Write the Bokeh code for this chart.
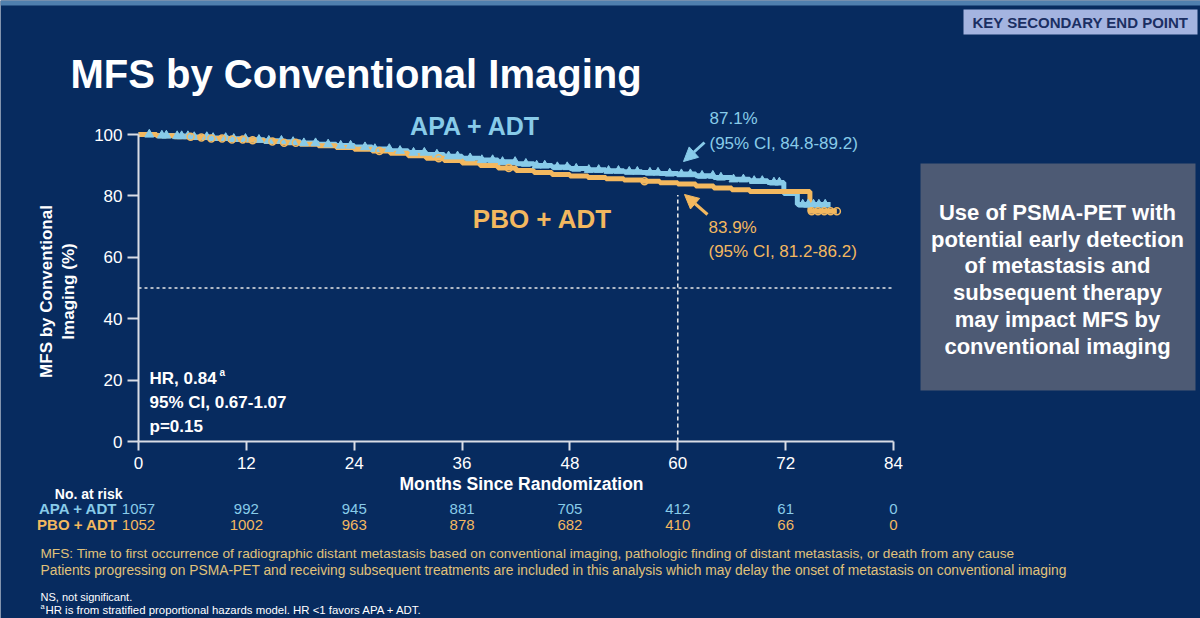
import numpy as np
from bokeh.plotting import figure
from bokeh.models import (Range1d, FixedTicker, Label, BoxAnnotation,
                          Arrow, NormalHead)
from bokeh.embed import file_html
from bokeh.resources import INLINE

# ---------------- data ----------------
month_ticks = [0, 12, 24, 36, 48, 60, 72, 84]
pct_ticks = [0, 20, 40, 60, 80, 100]

apa_t = [0, 2, 4, 6, 8, 10, 12, 14, 16, 18, 20, 22, 24, 26, 28, 30, 32, 34, 36,
         38, 40, 42, 44, 46, 48, 50, 52, 54, 56, 58, 60, 62, 64, 66, 68, 70,
         71.8, 73.3, 77.0]
apa_s = [100, 99.7, 99.5, 99.2, 98.9, 98.6, 98.3, 98.0, 97.6, 97.2, 96.8, 96.4,
         95.9, 95.3, 94.7, 94.1, 93.5, 92.9, 92.3, 91.7, 91.1, 90.5, 89.9, 89.4,
         88.9, 88.5, 88.2, 87.9, 87.6, 87.3, 87.1, 86.6, 86.0, 85.4, 84.9, 84.4,
         80.8, 77.2, 77.2]

pbo_t = [0, 2, 4, 6, 8, 10, 12, 14, 16, 18, 20, 22, 24, 26, 28, 30, 32, 34, 36,
         38, 40, 42, 44, 46, 48, 50, 52, 54, 56, 58, 60, 62, 64, 66, 68, 74.7,
         77.7]
pbo_s = [100, 99.6, 99.3, 99.0, 98.7, 98.4, 98.1, 97.7, 97.3, 96.8, 96.3, 95.8,
         95.2, 94.6, 93.9, 93.1, 92.3, 91.5, 90.7, 89.9, 89.1, 88.3, 87.6, 87.0,
         86.5, 86.0, 85.6, 85.2, 84.8, 84.3, 83.9, 83.2, 82.6, 82.0, 81.4, 75.0,
         75.0]

apa_censor = [1.2, 2.6, 3.1, 4.3, 4.8, 5.5, 6.2, 7.6, 8.3, 9.7, 10.6, 11.9,
              13.4, 14.5, 15.9, 17.2, 18.4, 19.7, 21.1, 22.5, 23.6, 25.2, 26.3,
              27.9, 29.1, 30.6, 31.8, 33.2, 34.5, 35.5, 36.9, 38.2, 39.4, 40.5,
              41.9, 43.1, 44.3, 45.2, 46.6, 47.7, 48.7, 50.1, 51.2, 52.3, 53.4,
              54.6, 55.5, 56.9, 57.8, 59.1, 60.4, 61.4, 62.7, 63.9, 64.8, 66.2,
              67.3, 68.5, 69.4, 70.7, 71.3, 73.9, 74.5, 75.1, 75.7, 76.4]
pbo_censor = [5.8, 7.0, 8.1, 9.3, 10.4, 11.6, 12.7, 14.9, 16.2, 17.5, 26.8,
              33.4, 41.2, 56.3, 74.9, 75.6, 76.3, 77.0, 77.7]

risk_arms = ["APA + ADT", "PBO + ADT"]
apa_risk = [1057, 992, 945, 881, 705, 412, 61, 0]
pbo_risk = [1052, 1002, 963, 878, 682, 410, 66, 0]

landmark = 60
median_ref = 50
apa_note = ["87.1%", "(95% CI, 84.8-89.2)"]
pbo_note = ["83.9%", "(95% CI, 81.2-86.2)"]
hr_lines = ["HR, 0.84", "95% CI, 0.67-1.07", "p=0.15"]
box_lines = ["Use of PSMA-PET with", "potential early detection",
             "of metastasis and", "subsequent therapy",
             "may impact MFS by", "conventional imaging"]
footnotes = [
    "MFS: Time to first occurrence of radiographic distant metastasis based on conventional imaging, pathologic finding of distant metastasis, or death from any cause",
    "Patients progressing on PSMA-PET and receiving subsequent treatments are included in this analysis which may delay the onset of metastasis on conventional imaging",
]
small_notes = ["NS, not significant.",
               "HR is from stratified proportional hazards model. HR <1 favors APA + ADT."]

# ---------------- style ----------------
BG = "#072b5f"
BLUE = "#88cbe9"
ORANGE = "#f3b85f"
AXIS = "#d9dde6"
GOLD = "#e0c27a"
SANS = "Liberation Sans"

W, H = 1200, 618
PX0, PX84 = 138, 893     # pixel columns of month 0 and 84
PY0, PY100 = 441, 134    # pixel rows of 0 % and 100 %


def X(px):
    return (px - PX0) / (PX84 - PX0) * 84


def Y(py):
    return (PY0 - py) / (PY0 - PY100) * 100


def km_at(ts, ss, t):
    idx = np.searchsorted(np.array(ts), np.array(t), side="right") - 1
    return list(np.array(ss)[idx])


p = figure(width=W, height=H, x_range=Range1d(X(0), X(W)),
           y_range=Range1d(Y(H), Y(0)), min_border=0,
           toolbar_location=None, output_backend="svg")
p.background_fill_color = BG
p.border_fill_color = BG
p.outline_line_color = None
p.xgrid.visible = False
p.ygrid.visible = False

for ax, ticks, bounds in ((p.xaxis, month_ticks, (0, 84)), (p.yaxis, pct_ticks, (0, 100))):
    ax.fixed_location = 0
    ax.ticker = FixedTicker(ticks=ticks)
    ax.bounds = bounds
    ax.axis_line_color = AXIS
    ax.axis_line_width = 2
    ax.major_tick_line_color = AXIS
    ax.major_tick_line_width = 2
    ax.major_tick_in = 0
    ax.minor_tick_line_color = None
    ax.major_label_text_color = "white"
    ax.major_label_text_font = SANS
    ax.major_label_text_font_size = "17px"
p.xaxis.major_tick_out = 9
p.xaxis.major_label_standoff = 6
p.yaxis.major_tick_out = 11
p.yaxis.major_label_standoff = 5

# reference lines
p.segment(x0=[0], y0=[median_ref], x1=[84], y1=[median_ref],
          line_color="#e8e8e8", line_dash="3 3", line_width=1.6)
p.segment(x0=[landmark], y0=[0], x1=[landmark],
          y1=[km_at(pbo_t, pbo_s, [landmark])[0] - 3.6],
          line_color="#e8e8e8", line_dash="4 3", line_width=1.6)

# KM curves
p.step(apa_t, apa_s, mode="after", line_color=BLUE, line_width=5)
p.step(pbo_t, pbo_s, mode="after", line_color=ORANGE, line_width=5)
p.scatter(apa_censor, km_at(apa_t, apa_s, apa_censor), marker="triangle", size=9,
          fill_color=BLUE, line_color=BLUE)
p.scatter(pbo_censor, km_at(pbo_t, pbo_s, pbo_censor), marker="circle", size=7,
          fill_color=None, line_color=ORANGE, line_width=1.5)

# arrows
p.add_layout(Arrow(end=NormalHead(size=14, fill_color=BLUE, line_color=BLUE),
                   x_start=X(704), y_start=Y(142), x_end=X(683), y_end=Y(161),
                   line_color=BLUE, line_width=3))
p.add_layout(Arrow(end=NormalHead(size=14, fill_color=ORANGE, line_color=ORANGE),
                   x_start=X(707), y_start=Y(214), x_end=X(684), y_end=Y(194),
                   line_color=ORANGE, line_width=3))


def lab(px, py, text, size, color="white", style="normal", align="left",
        angle=0.0, x=None):
    p.add_layout(Label(x=X(px) if x is None else x, y=Y(py), text=text,
                       text_font=SANS, text_font_size=f"{size}px",
                       text_font_style=style, text_color=color,
                       text_align=align, text_baseline="middle", angle=angle))


# decorative boxes
p.add_layout(BoxAnnotation(left=X(0), right=X(W), top=Y(0), bottom=Y(5),
                           fill_color="#4f7fae", fill_alpha=1, line_color=None))
p.add_layout(BoxAnnotation(left=X(963), right=X(1197), top=Y(9), bottom=Y(34),
                           fill_color="#a4b4e0", fill_alpha=1, line_color=None))
p.add_layout(BoxAnnotation(left=X(920), right=X(1195), top=Y(163), bottom=Y(390),
                           fill_color="#4d5a74", fill_alpha=1, line_color=None))

# texts
lab(1080, 22, "KEY SECONDARY END POINT", 15, color="#1b2f63", style="bold",
    align="center")
lab(70, 73, "MFS by Conventional Imaging", 40, style="bold")
lab(475, 125, risk_arms[0], 25, color=BLUE, style="bold", align="center")
lab(542, 218, risk_arms[1], 26, color=ORANGE, style="bold", align="center")
lab(709, 118, apa_note[0], 17, color=BLUE)
lab(709, 143, apa_note[1], 17, color=BLUE)
lab(708, 227, pbo_note[0], 17, color=ORANGE)
lab(708, 251, pbo_note[1], 17, color=ORANGE)
for i, t in enumerate(hr_lines):
    lab(149, 378 + 24 * i, t, 17, style="bold")
lab(219, 372, "a", 10, style="bold")
lab(46, 291, "MFS by Conventional", 17, style="bold", align="center", angle=np.pi / 2)
lab(68, 291, "Imaging (%)", 17, style="bold", align="center", angle=np.pi / 2)
lab(521, 483, "Months Since Randomization", 17.5, style="bold", align="center")
for i, t in enumerate(box_lines):
    lab(1057, 212 + 26.7 * i, t, 22, style="bold", align="center")

# at-risk table
lab(122, 493, "No. at risk", 14, style="bold", align="right")
lab(117, 508, risk_arms[0], 15, color=BLUE, style="bold", align="right")
lab(117, 524, risk_arms[1], 15, color=ORANGE, style="bold", align="right")
for m, a, b in zip(month_ticks, apa_risk, pbo_risk):
    lab(0, 508, str(a), 15, color=BLUE, align="center", x=m)
    lab(0, 524, str(b), 15, color=ORANGE, align="center", x=m)

# footnotes
lab(40, 553, footnotes[0], 13.65, color=GOLD)
lab(40, 570, footnotes[1], 13.8, color=GOLD)
lab(40, 596, small_notes[0], 11)
lab(40, 606, "a", 7.5)
lab(45, 609, small_notes[1], 11.4)

open("out.html", "w").write(file_html(p, INLINE))
